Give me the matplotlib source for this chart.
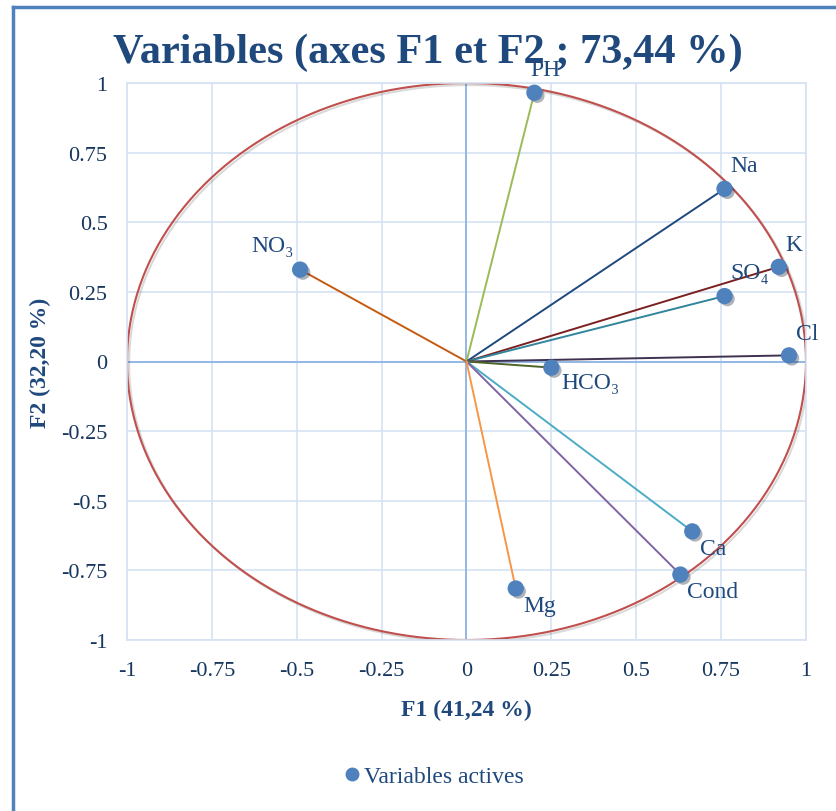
import matplotlib.pyplot as plt
import matplotlib.patheffects as pe
import numpy as np
from matplotlib.lines import Line2D

# coordinates of the active variables on F1 / F2
variables = ["PH", "Na", "K", "SO₄", "Cl", "HCO₃", "NO₃", "Ca", "Cond", "Mg"]
f1 = [0.20, 0.76, 0.92, 0.76, 0.95, 0.25, -0.49, 0.665, 0.63, 0.145]
f2 = [0.965, 0.62, 0.34, 0.235, 0.022, -0.022, 0.33, -0.61, -0.765, -0.815]
ticks = [-1, -0.75, -0.5, -0.25, 0, 0.25, 0.5, 0.75, 1]

# styling (kept apart from the values)
line_colors = ["#9BBB59", "#1F497D", "#7B2020", "#31859C", "#3F3151",
               "#4F6228", "#C55A11", "#4BACC6", "#8064A2", "#F79646"]
label_offsets = [(8, 17), (14, 17), (11, 16), (18, 17), (13, 16),
                 (28, -11), (-20, 17), (15, -12), (23, -12), (17, -12)]

navy = "#1F497D"
serif = ["Liberation Serif", "DejaVu Serif"]
plt.rcParams["font.family"] = serif

fig = plt.figure(figsize=(8.37, 8.12), dpi=100)
ax = fig.add_axes([127 / 837, 1 - 641 / 812, 679 / 837, 557 / 812])

ax.set_xlim(-1, 1)
ax.set_ylim(-1, 1)
ax.set_xticks(ticks)
ax.set_yticks(ticks)
ax.set_xticklabels([f"{t:g}" for t in ticks])
ax.set_yticklabels([f"{t:g}" for t in ticks])
ax.tick_params(length=0, labelsize=16, labelcolor="#17375E")
ax.tick_params(axis="x", pad=15)
ax.tick_params(axis="y", pad=14)
ax.grid(True, color="#D6E3F3", linewidth=1.2)
ax.set_axisbelow(True)
for sp in ax.spines.values():
    sp.set_color("#D6E3F3")
    sp.set_linewidth(1.2)
ax.axhline(0, color="#8EB4E3", linewidth=1.3, zorder=1)
ax.axvline(0, color="#8EB4E3", linewidth=1.3, zorder=1)

# correlation circle
theta = np.linspace(0, 2 * np.pi, 400)
ax.plot(np.cos(theta), np.sin(theta), color="#C0504D", linewidth=1.5, zorder=2,
        path_effects=[pe.SimpleLineShadow(offset=(1.5, -1.5), alpha=0.15), pe.Normal()])

for name, x, y, c, off in zip(variables, f1, f2, line_colors, label_offsets):
    ax.plot([0, x], [0, y], color=c, linewidth=1.4, zorder=3)
    ax.annotate(name, (x, y), xytext=off, textcoords="offset points",
                ha="center", va="center", fontsize=17, color=navy, zorder=6)

ax.scatter(f1, f2, s=115, color="#4F81BD", zorder=5, edgecolors="#4F81BD",
           path_effects=[pe.SimplePatchShadow(offset=(2, -2), alpha=0.35), pe.Normal()])

ax.set_xlabel("F1 (41,24 %)", fontsize=17, fontweight="bold", color=navy, labelpad=14)
ax.set_ylabel("F2 (32,20 %)", fontsize=17, fontweight="bold", color=navy, labelpad=7)

fig.text(428 / 837, 1 - 53 / 812, "Variables (axes F1 et F2 ; 73,44 %)", ha="center",
         va="center", fontsize=30.5, fontweight="bold", color=navy, zorder=1)

# legend
leg_handle = Line2D([], [], marker="o", linestyle="none", markersize=9,
                    color="#4F81BD")
fig.legend([leg_handle], ["Variables actives"], loc="center",
           bbox_to_anchor=(434 / 837, 1 - 777 / 812), frameon=False,
           fontsize=17, labelcolor=navy, handlelength=0.6, handletextpad=0.2)

# outer frame (left and top edges visible)
frame_color = "#4F81BD"
fig.add_artist(Line2D([13 / 837, 13 / 837], [0, 1 - 8 / 812], color=frame_color,
                      linewidth=2.5, transform=fig.transFigure))
fig.add_artist(Line2D([13 / 837, 1], [1 - 8 / 812, 1 - 8 / 812], color=frame_color,
                      linewidth=2.5, transform=fig.transFigure))

fig.savefig("out.png", dpi=100, facecolor="white")
